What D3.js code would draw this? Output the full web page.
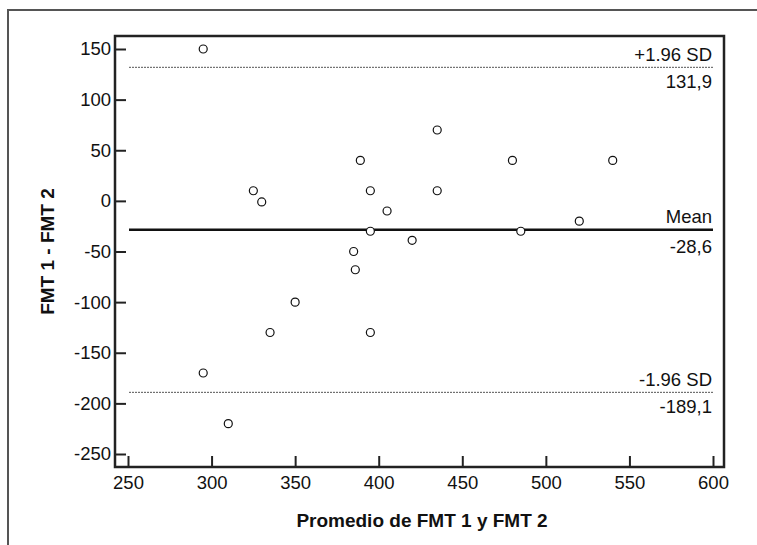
<!DOCTYPE html>
<html>
<head>
<meta charset="utf-8">
<script src="https://cdn.jsdelivr.net/npm/d3@7"></script>
<style>
  body { margin: 0; background: #fff; }
  svg { display: block; font-family: "Liberation Sans", Arial, sans-serif; }
</style>
</head>
<body>
<div id="chart"></div>
<script>
// average of the two measurements (x) and their difference (y)
const promedio = [295, 325, 330, 389, 395, 395, 385, 386, 405, 420, 435, 435, 480, 485, 520, 540, 350, 335, 395, 295, 310];
const diferencia = [150, 10, -1, 40, 10, -30, -50, -68, -10, -39, 70, 10, 40, -30, -20, 40, -100, -130, -130, -170, -220];

const xTicks = [250, 300, 350, 400, 450, 500, 550, 600];
const yTicks = [150, 100, 50, 0, -50, -100, -150, -200, -250];

const mean = -28.6;
const upperLimit = 131.9;
const lowerLimit = -189.1;

const refLines = [
  {value: upperLimit, top: "+1.96 SD", bottom: "131,9", dash: true},
  {value: mean, top: "Mean", bottom: "-28,6", dash: false},
  {value: lowerLimit, top: "-1.96 SD", bottom: "-189,1", dash: true}
];

const width = 757, height = 545;
const frame = {left: 115, right: 724, top: 36, bottom: 467};
const pad = 13;
const fontSize = 18.5;

const x = d3.scaleLinear([250, 600], [frame.left + pad, frame.right - 11]);
const y = d3.scaleLinear([-250, 150], [frame.bottom - pad, frame.top + pad]);

// plain hyphen for negatives, like the original
const fmt = d => String(d);

const svg = d3.select("#chart").append("svg")
    .attr("width", width)
    .attr("height", height)
    .attr("viewBox", [0, 0, width, height]);

// outer border
svg.append("rect")
    .attr("x", 8).attr("y", 10)
    .attr("width", width).attr("height", height)
    .attr("fill", "none")
    .attr("stroke", "#555")
    .attr("stroke-width", 2);

// plot frame
svg.append("rect")
    .attr("x", frame.left).attr("y", frame.top)
    .attr("width", frame.right - frame.left)
    .attr("height", frame.bottom - frame.top)
    .attr("fill", "none")
    .attr("stroke", "#222")
    .attr("stroke-width", 2.5);

// y axis, ticks pointing inwards
svg.append("g")
    .attr("transform", `translate(${frame.left},0)`)
    .call(d3.axisRight(y).tickValues(yTicks).tickFormat(fmt).tickSize(11).tickPadding(0))
    .call(g => g.select(".domain").remove())
    .call(g => g.selectAll(".tick line").attr("stroke", "#222").attr("stroke-width", 2))
    .call(g => g.selectAll(".tick text")
        .attr("x", -4)
        .attr("text-anchor", "end")
        .attr("font-size", fontSize)
        .attr("font-family", "Liberation Sans, Arial, sans-serif")
        .attr("fill", "#111"));

// x axis, ticks pointing inwards
svg.append("g")
    .attr("transform", `translate(0,${frame.bottom})`)
    .call(d3.axisTop(x).tickValues(xTicks).tickFormat(fmt).tickSize(11))
    .call(g => g.select(".domain").remove())
    .call(g => g.selectAll(".tick line").attr("stroke", "#222").attr("stroke-width", 2))
    .call(g => g.selectAll(".tick text")
        .attr("y", 22)
        .attr("dy", 0)
        .attr("font-size", fontSize)
        .attr("font-family", "Liberation Sans, Arial, sans-serif")
        .attr("fill", "#111"));

// mean and limits of agreement
const ref = svg.append("g").selectAll("g")
  .data(refLines)
  .join("g");

ref.append("line")
    .attr("x1", x(250) + 1)
    .attr("x2", x(600))
    .attr("y1", d => y(d.value))
    .attr("y2", d => y(d.value))
    .attr("stroke", d => d.dash ? "#555" : "#111")
    .attr("stroke-width", d => d.dash ? 1 : 2.5)
    .attr("stroke-dasharray", d => d.dash ? "2,1" : null);

ref.append("text")
    .attr("x", x(600) - 1)
    .attr("y", d => y(d.value) - 6.5)
    .attr("text-anchor", "end")
    .attr("font-size", fontSize)
    .attr("fill", "#111")
    .text(d => d.top);

ref.append("text")
    .attr("x", x(600) - 1)
    .attr("y", d => y(d.value) + (d.dash ? 20.5 : 23))
    .attr("text-anchor", "end")
    .attr("font-size", fontSize)
    .attr("fill", "#111")
    .text(d => d.bottom);

// points
svg.append("g")
  .selectAll("circle")
  .data(d3.range(promedio.length))
  .join("circle")
    .attr("cx", i => x(promedio[i]))
    .attr("cy", i => y(diferencia[i]))
    .attr("r", 4)
    .attr("fill", "white")
    .attr("stroke", "#111")
    .attr("stroke-width", 1.2);

// axis titles
svg.append("text")
    .attr("x", 422)
    .attr("y", 526.5)
    .attr("text-anchor", "middle")
    .attr("font-size", 19)
    .attr("font-weight", "bold")
    .attr("fill", "#111")
    .text("Promedio de FMT 1 y FMT 2");

svg.append("text")
    .attr("transform", `translate(54,${(frame.top + frame.bottom) / 2}) rotate(-90)`)
    .attr("text-anchor", "middle")
    .attr("font-size", 19)
    .attr("font-weight", "bold")
    .attr("fill", "#111")
    .text("FMT 1 - FMT 2");
</script>
</body>
</html>
